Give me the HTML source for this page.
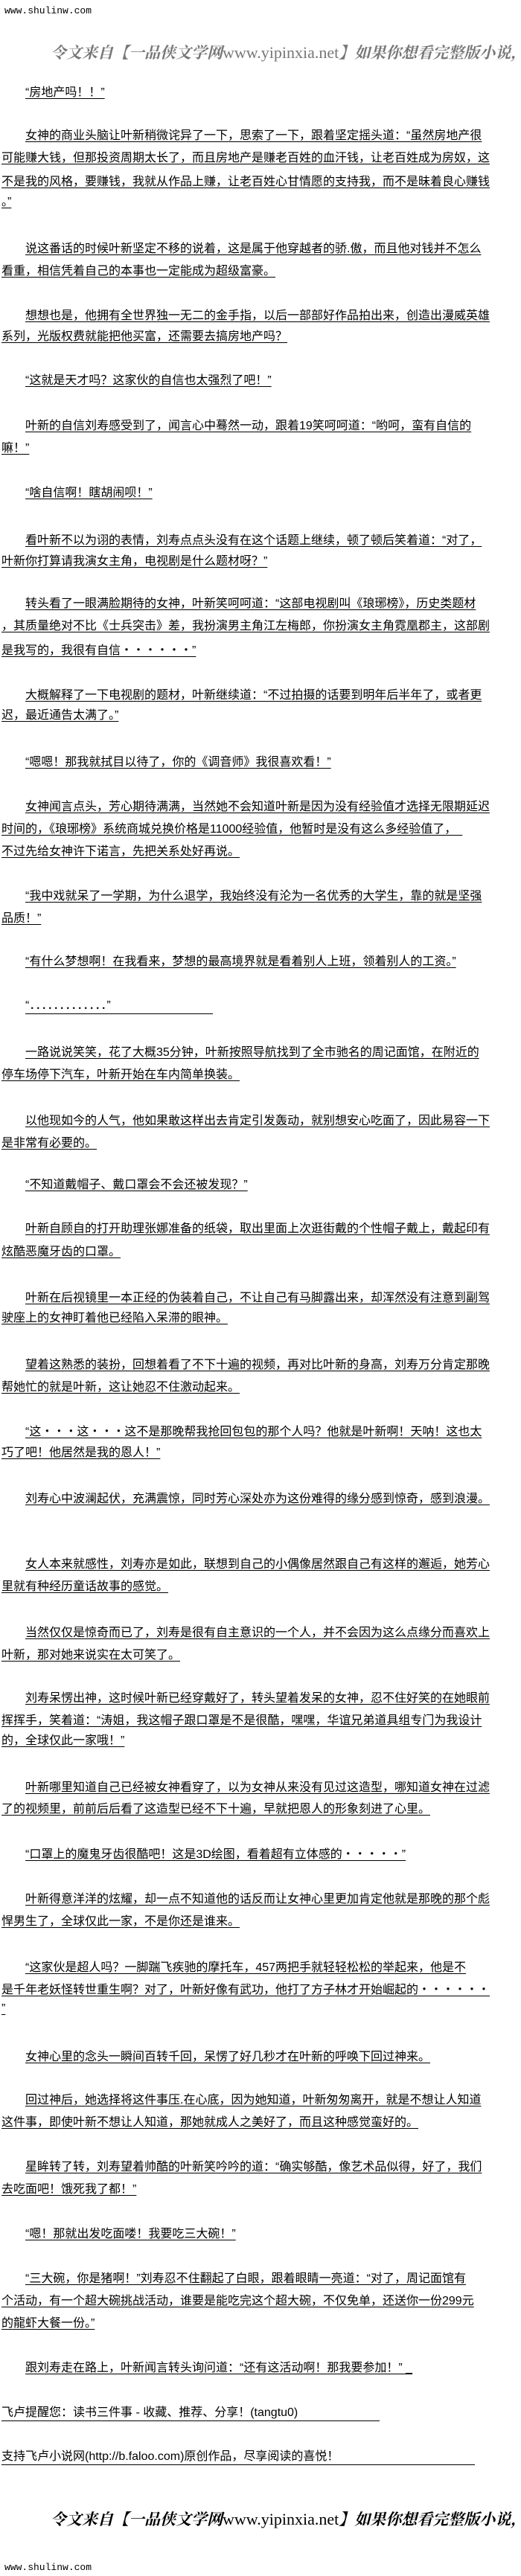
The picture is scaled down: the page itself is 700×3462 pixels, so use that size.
<!DOCTYPE html>
<html><head><meta charset="utf-8">
<style>
html,body{margin:0;padding:0;background:#fff;}
body{width:700px;height:3462px;position:relative;overflow:hidden;
font-family:"Liberation Sans","Noto Sans CJK SC","WenQuanYi Zen Hei",sans-serif;color:#000;}
.l{position:absolute;left:2px;height:20px;line-height:20px;font-size:16px;white-space:nowrap;text-decoration:underline;text-underline-offset:3px;}
.i{left:34px;}
.site{position:absolute;left:6px;font-family:"Liberation Mono",monospace;font-size:13px;line-height:16px;white-space:nowrap;}
.ban{position:absolute;left:68px;font-family:"Noto Serif CJK SC",serif;font-style:italic;font-weight:bold;font-size:21px;line-height:26px;white-space:nowrap;}
.ban span{font-family:"Liberation Serif",serif;font-style:normal;font-weight:normal;font-size:22px;}
.ul{display:inline-block;border-bottom:1px solid #000;text-decoration:none;line-height:20px;}
</style></head><body>
<div class="site" style="top:7px">www.shulinw.com</div>
<div class="ban" style="top:57px;color:#777">令文来自【一品侠文学网<span>www.yipinxia.net</span>】如果你想看完整版小说，请</div>

<div class="l i" style="top:115px">“房地产吗！！”</div>
<div class="l i" style="top:173px">女神的商业头脑让叶新稍微诧异了一下，思索了一下，跟着坚定摇头道：“虽然房地产很</div>
<div class="l" style="top:203px">可能赚大钱，但那投资周期太长了，而且房地产是赚老百姓的血汗钱，让老百姓成为房奴，这</div>
<div class="l" style="top:235px">不是我的风格，要赚钱，我就从作品上赚，让老百姓心甘情愿的支持我，而不是昧着良心赚钱</div>
<div class="l" style="top:262px">。”</div>

<div class="l i" style="top:325px">说这番话的时候叶新坚定不移的说着，这是属于他穿越者的骄.傲，而且他对钱并不怎么</div>
<div class="l" style="top:355px">看重，相信凭着自己的本事也一定能成为超级富豪。</div>
<div class="l i" style="top:415px">想想也是，他拥有全世界独一无二的金手指，以后一部部好作品拍出来，创造出漫威英雄</div>
<div class="l" style="top:443px">系列，光版权费就能把他买富，还需要去搞房地产吗？</div>
<div class="l i" style="top:502px">“这就是天才吗？这家伙的自信也太强烈了吧！”</div>
<div class="l i" style="top:563px">叶新的自信刘寿感受到了，闻言心中蓦然一动，跟着19笑呵呵道：“哟呵，蛮有自信的</div>
<div class="l" style="top:593px">嘛！”</div>
<div class="l i" style="top:653px">“啥自信啊！瞎胡闹呗！”</div>
<div class="l i" style="top:717px">看叶新不以为诩的表情，刘寿点点头没有在这个话题上继续，顿了顿后笑着道：“对了，</div>
<div class="l" style="top:745px">叶新你打算请我演女主角，电视剧是什么题材呀？”</div>
<div class="l i" style="top:802px">转头看了一眼满脸期待的女神，叶新笑呵呵道：“这部电视剧叫《琅琊榜》，历史类题材</div>
<div class="l" style="top:832px">，其质量绝对不比《士兵突击》差，我扮演男主角江左梅郎，你扮演女主角霓凰郡主，这部剧</div>
<div class="l" style="top:865px">是我写的，我很有自信・・・・・・”</div>
<div class="l i" style="top:925px">大概解释了一下电视剧的题材，叶新继续道：“不过拍摄的话要到明年后半年了，或者更</div>
<div class="l" style="top:952px">迟，最近通告太满了。”</div>
<div class="l i" style="top:1015px">“嗯嗯！那我就拭目以待了，你的《调音师》我很喜欢看！”</div>
<div class="l i" style="top:1075px">女神闻言点头，芳心期待满满，当然她不会知道叶新是因为没有经验值才选择无限期延迟</div>
<div class="l" style="top:1105px">时间的，《琅琊榜》系统商城兑换价格是11000经验值，他暂时是没有这么多经验值了，　</div>
<div class="l" style="top:1135px">不过先给女神许下诺言，先把关系处好再说。</div>
<div class="l i" style="top:1195px">“我中戏就呆了一学期，为什么退学，我始终没有沦为一名优秀的大学生，靠的就是坚强</div>
<div class="l" style="top:1225px">品质！”</div>
<div class="l i" style="top:1283px">“有什么梦想啊！在我看来，梦想的最高境界就是看着别人上班，领着别人的工资。”</div>
<div class="l i" style="top:1342px"><span class="ul" style="width:252px">“．．．．．．．．．．．．．”</span></div>
<div class="l i" style="top:1405px">一路说说笑笑，花了大概35分钟，叶新按照导航找到了全市驰名的周记面馆，在附近的</div>
<div class="l" style="top:1435px">停车场停下汽车，叶新开始在车内简单换装。</div>
<div class="l i" style="top:1497px">以他现如今的人气，他如果敢这样出去肯定引发轰动，就别想安心吃面了，因此易容一下</div>
<div class="l" style="top:1527px">是非常有必要的。</div>
<div class="l i" style="top:1583px">“不知道戴帽子、戴口罩会不会还被发现？”</div>
<div class="l i" style="top:1642px">叶新自顾自的打开助理张娜准备的纸袋，取出里面上次逛街戴的个性帽子戴上，戴起印有</div>
<div class="l" style="top:1673px">炫酷恶魔牙齿的口罩。</div>
<div class="l i" style="top:1735px">叶新在后视镜里一本正经的伪装着自己，不让自己有马脚露出来，却浑然没有注意到副驾</div>
<div class="l" style="top:1762px">驶座上的女神盯着他已经陷入呆滞的眼神。</div>
<div class="l i" style="top:1825px">望着这熟悉的装扮，回想着看了不下十遍的视频，再对比叶新的身高，刘寿万分肯定那晚</div>
<div class="l" style="top:1855px">帮她忙的就是叶新，这让她忍不住激动起来。</div>
<div class="l i" style="top:1915px">“这・・・这・・・这不是那晚帮我抢回包包的那个人吗？他就是叶新啊！天呐！这也太</div>
<div class="l" style="top:1943px">巧了吧！他居然是我的恩人！”</div>
<div class="l i" style="top:2005px">刘寿心中波澜起伏，充满震惊，同时芳心深处亦为这份难得的缘分感到惊奇，感到浪漫。</div>
<div class="l i" style="top:2093px">女人本来就感性，刘寿亦是如此，联想到自己的小偶像居然跟自己有这样的邂逅，她芳心</div>
<div class="l" style="top:2123px">里就有种经历童话故事的感觉。</div>
<div class="l i" style="top:2185px">当然仅仅是惊奇而已了，刘寿是很有自主意识的一个人，并不会因为这么点缘分而喜欢上</div>
<div class="l" style="top:2215px">叶新，那对她来说实在太可笑了。</div>
<div class="l i" style="top:2273px">刘寿呆愣出神，这时候叶新已经穿戴好了，转头望着发呆的女神，忍不住好笑的在她眼前</div>
<div class="l" style="top:2303px">挥挥手，笑着道：“涛姐，我这帽子跟口罩是不是很酷，嘿嘿，华谊兄弟道具组专门为我设计</div>
<div class="l" style="top:2330px">的，全球仅此一家哦！”</div>
<div class="l i" style="top:2393px">叶新哪里知道自己已经被女神看穿了，以为女神从来没有见过这造型，哪知道女神在过滤</div>
<div class="l" style="top:2422px">了的视频里，前前后后看了这造型已经不下十遍，早就把恩人的形象刻进了心里。</div>
<div class="l i" style="top:2483px">“口罩上的魔鬼牙齿很酷吧！这是3D绘图，看着超有立体感的・・・・・”</div>
<div class="l i" style="top:2543px">叶新得意洋洋的炫耀，却一点不知道他的话反而让女神心里更加肯定他就是那晚的那个彪</div>
<div class="l" style="top:2573px">悍男生了，全球仅此一家，不是你还是谁来。</div>
<div class="l i" style="top:2635px">“这家伙是超人吗？一脚踹飞疾驰的摩托车，457两把手就轻轻松松的举起来，他是不</div>
<div class="l" style="top:2665px">是千年老妖怪转世重生啊？对了，叶新好像有武功，他打了方子林才开始崛起的・・・・・・</div>
<div class="l" style="top:2690px">”</div>
<div class="l i" style="top:2755px">女神心里的念头一瞬间百转千回，呆愣了好几秒才在叶新的呼唤下回过神来。</div>
<div class="l i" style="top:2813px">回过神后，她选择将这件事压.在心底，因为她知道，叶新匆匆离开，就是不想让人知道</div>
<div class="l" style="top:2843px">这件事，即使叶新不想让人知道，那她就成人之美好了，而且这种感觉蛮好的。</div>
<div class="l i" style="top:2903px">星眸转了转，刘寿望着帅酷的叶新笑吟吟的道：“确实够酷，像艺术品似得，好了，我们</div>
<div class="l" style="top:2933px">去吃面吧！饿死我了都！”</div>
<div class="l i" style="top:2993px">“嗯！那就出发吃面喽！我要吃三大碗！”</div>
<div class="l i" style="top:3053px">“三大碗，你是猪啊！”刘寿忍不住翻起了白眼，跟着眼睛一亮道：“对了，周记面馆有</div>
<div class="l" style="top:3083px">个活动，有一个超大碗挑战活动，谁要是能吃完这个超大碗，不仅免单，还送你一份299元</div>
<div class="l" style="top:3113px">的龍虾大餐一份。”</div>
<div class="l i" style="top:3173px">跟刘寿走在路上，叶新闻言转头询问道：“还有这活动啊！那我要参加！” _</div>
<div class="l" style="top:3233px"><span class="ul" style="width:508px">飞卢提醒您：读书三件事 - 收藏、推荐、分享！(tangtu0)</span></div>
<div class="l" style="top:3292px"><span class="ul" style="width:636px">支持飞卢小说网(http://b.faloo.com)原创作品，尽享阅读的喜悦！</span></div>

<div class="ban" style="top:3372px;color:#000">令文来自【一品侠文学网<span>www.yipinxia.net</span>】如果你想看完整版小说，请</div>
<div class="site" style="top:3443px">www.shulinw.com</div>
</body></html>
